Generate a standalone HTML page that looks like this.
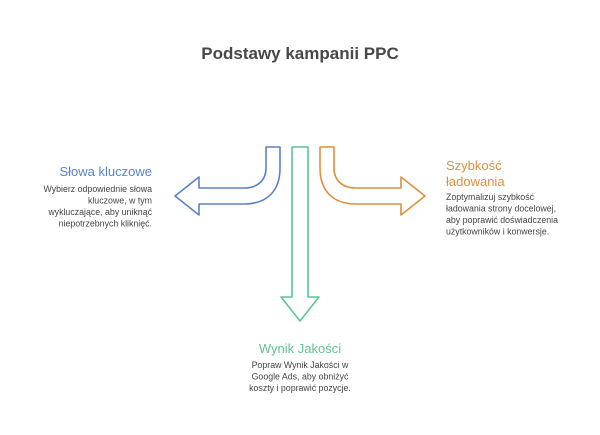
<!DOCTYPE html>
<html><head><meta charset="utf-8"><style>
html,body{margin:0;padding:0;background:#fff;}
svg{display:block;}
text{font-family:"Liberation Sans",sans-serif;}
</style></head><body>
<svg width="600" height="435" viewBox="0 0 600 435" xmlns="http://www.w3.org/2000/svg">
<rect width="600" height="435" fill="#fff"/>
<text x="300" y="59" text-anchor="middle" font-size="17" font-weight="bold" fill="#474747">Podstawy kampanii PPC</text>

<path d="M266,147 H280 V168 C280,190 268,204 244,204 H199 V215 L175,196 L199,177 V188 H244 C258,188 266,180 266,168 Z" fill="none" stroke="#5b82c9" stroke-width="1.6" stroke-linejoin="round"/>
<path d="M334,147 H320 V168 C320,190 332,204 356,204 H401 V215 L425,196 L401,177 V188 H356 C342,188 334,180 334,168 Z" fill="none" stroke="#d9913f" stroke-width="1.6" stroke-linejoin="round"/>
<path d="M292,147 H308 V297 H319 L300,321 L281,297 H292 Z" fill="none" stroke="#5cc496" stroke-width="1.6" stroke-linejoin="round"/>

<text x="152" y="176" text-anchor="end" font-size="13" fill="#5b82c9">Słowa kluczowe</text>
<g font-size="8.8" fill="#444" text-anchor="end">
<text x="152" y="192">Wybierz odpowiednie słowa</text>
<text x="152" y="203.5">kluczowe, w tym</text>
<text x="152" y="215">wykluczające, aby uniknąć</text>
<text x="152" y="226.5">niepotrzebnych kliknięć.</text>
</g>

<text x="446" y="170" font-size="13" fill="#d9913f">Szybkość</text>
<text x="446" y="186" font-size="13" fill="#d9913f">ładowania</text>
<g font-size="8.8" fill="#444">
<text x="446" y="200">Zoptymalizuj szybkość</text>
<text x="446" y="211.5">ładowania strony docelowej,</text>
<text x="446" y="223">aby poprawić doświadczenia</text>
<text x="446" y="234.5">użytkowników i konwersje.</text>
</g>

<text x="300" y="353" text-anchor="middle" font-size="13" fill="#5cc496">Wynik Jakości</text>
<g font-size="8.8" fill="#444" text-anchor="middle">
<text x="300" y="368">Popraw Wynik Jakości w</text>
<text x="300" y="379.5">Google Ads, aby obniżyć</text>
<text x="300" y="391">koszty i poprawić pozycje.</text>
</g>
</svg>
</body></html>
